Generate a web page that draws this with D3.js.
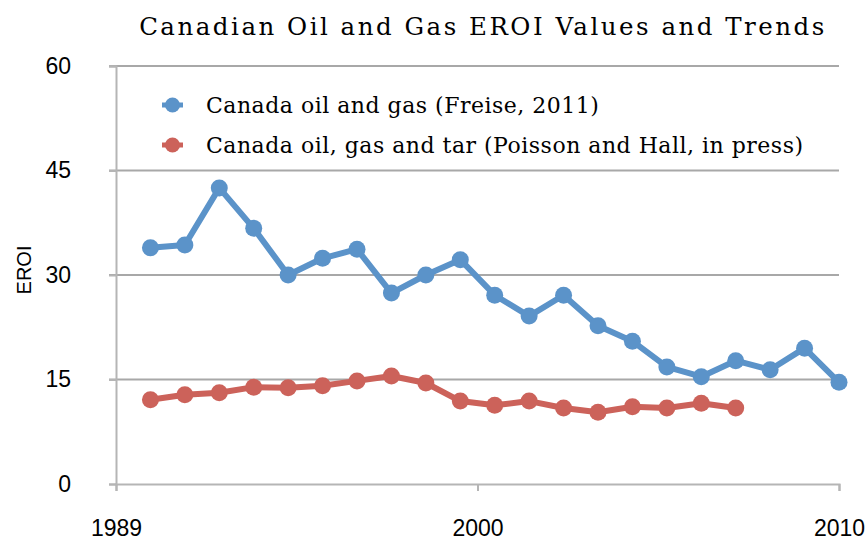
<!DOCTYPE html>
<html><head><meta charset="utf-8">
<script src="https://cdn.jsdelivr.net/npm/d3@7"></script>
<style>body{margin:0;background:#fff;}svg{display:block;}</style>
</head><body><svg id="c" width="868" height="541"></svg>
<script>
const years = d3.range(1990, 2011);
const freise = [33.9,34.3,42.5,36.7,30.0,32.4,33.7,27.4,30.0,32.2,27.1,24.1,27.1,22.7,20.5,16.8,15.4,17.7,16.4,19.5,14.6];
const poissonYears = d3.range(1990, 2008);
const poisson = [12.1,12.8,13.1,13.9,13.8,14.1,14.8,15.5,14.5,11.9,11.3,11.9,10.9,10.3,11.1,10.9,11.6,10.9];
const yTicks = [0,15,30,45,60];
const xTicks = [1989, 1999.5, 2010];
const seriesNames = ["Canada oil and gas (Freise, 2011)", "Canada oil, gas and tar (Poisson and Hall, in press)"];
const colors = ["#5b93c9", "#cc625a"];

const svg = d3.select("#c");
const L=116, R=839, T=66, B=484;
const x = d3.scaleLinear().domain([1989,2010]).range([L,R]);
const y = d3.scaleLinear().domain([0,60]).range([B,T]);
const sans = "'Liberation Sans', Arial, sans-serif";

// gridlines
svg.append("g").selectAll("line").data(yTicks.filter(d=>d>0)).join("line")
  .attr("x1",L-7).attr("x2",R).attr("y1",d=>y(d)).attr("y2",d=>y(d))
  .attr("stroke","#a8a8a8").attr("stroke-width",2);

// y axis
const ya = svg.append("g").attr("transform",`translate(${L},0)`)
  .call(d3.axisLeft(y).tickValues(yTicks).tickSize(7).tickPadding(38));
ya.attr("font-size",null).attr("font-family",null);
ya.select(".domain").attr("stroke","#b5b5b5").attr("stroke-width",2);
ya.selectAll(".tick line").attr("stroke","#b5b5b5").attr("stroke-width",2);
ya.selectAll("text").style("font-family",sans).style("font-size","23px").attr("fill","#000").attr("text-anchor","end");

// x axis
const xa = svg.append("g").attr("transform",`translate(0,${B})`)
  .call(d3.axisBottom(x).tickValues(xTicks).tickFormat(d3.format(".0f")).tickSize(7).tickPadding(29));
xa.attr("font-size",null).attr("font-family",null);
xa.select(".domain").attr("stroke","#b5b5b5").attr("stroke-width",2);
xa.selectAll(".tick line").attr("stroke","#b5b5b5").attr("stroke-width",2);
xa.selectAll("text").style("font-family",sans).style("font-size","23px").attr("fill","#000");

// series
const sets = [years.map((yr,i)=>[yr,freise[i]]), poissonYears.map((yr,i)=>[yr,poisson[i]])];
const line = d3.line().x(d=>x(d[0])).y(d=>y(d[1]));
sets.forEach((s,k)=>{
  svg.append("path").datum(s).attr("d",line).attr("fill","none")
    .attr("stroke",colors[k]).attr("stroke-width",6).attr("stroke-linejoin","round");
  svg.append("g").selectAll("circle").data(s).join("circle")
    .attr("cx",d=>x(d[0])).attr("cy",d=>y(d[1])).attr("r",8.5).attr("fill",colors[k]);
});

// legend
seriesNames.forEach((n,k)=>{
  const ly = 105 + k*40;
  svg.append("line").attr("x1",162).attr("x2",183).attr("y1",ly).attr("y2",ly).attr("stroke",colors[k]).attr("stroke-width",5);
  svg.append("circle").attr("cx",172.5).attr("cy",ly).attr("r",7.5).attr("fill",colors[k]);
  svg.append("text").attr("x",206).attr("y",ly+8).text(n)
    .style("font-family","'DejaVu Serif',serif").style("font-size","22px").attr("letter-spacing",0.5).attr("fill","#000");
});

// title
svg.append("text").attr("x",483).attr("y",35).attr("text-anchor","middle")
  .style("font-family","'DejaVu Serif',serif").style("font-size","24.5px").attr("letter-spacing",2.5)
  .text("Canadian Oil and Gas EROI Values and Trends");

// y label
svg.append("text").attr("transform","translate(31,270) rotate(-90)").attr("text-anchor","middle")
  .style("font-family",sans).style("font-size","20px").text("EROI");
</script></body></html>
